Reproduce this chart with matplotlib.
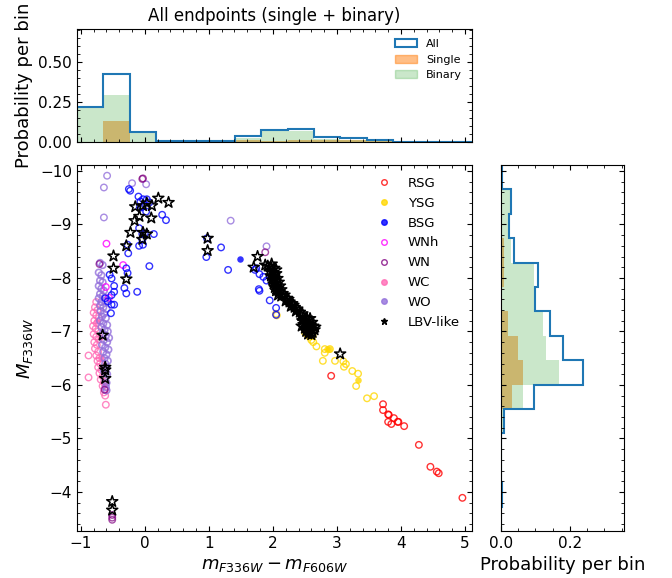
import numpy as np
import matplotlib
matplotlib.use("Agg")
import matplotlib.pyplot as plt
from matplotlib.lines import Line2D
from matplotlib.patches import Patch

# ---- data ----
rsg_x = [2.91, 3.72, 3.72, 3.80, 3.81, 3.80, 3.85, 3.89, 3.95, 3.96, 4.05, 4.28, 4.46, 4.56, 4.59, 4.96]
rsg_y = [-6.17, -5.64, -5.53, -5.45, -5.44, -5.31, -5.27, -5.38, -5.31, -5.31, -5.23, -4.88, -4.47, -4.38, -4.35, -3.89]

ysg_x = [2.53, 2.57, 2.60, 2.63, 2.68, 2.81, 2.78, 2.97, 3.10, 3.14, 3.11, 3.24, 3.33, 3.30, 3.47, 3.58,
         2.81, 2.89, 2.05, 2.06, 2.50, 2.56, 2.62]
ysg_y = [-6.95, -6.90, -6.84, -6.80, -6.72, -6.60, -6.45, -6.45, -6.44, -6.39, -6.34, -6.26, -6.21, -5.98, -5.75, -5.79,
         -6.67, -6.67, -7.33, -7.30, -6.98, -6.94, -6.92]
ysg_fill_x = [2.85, 2.87, 3.33, 2.55]
ysg_fill_y = [-6.68, -6.67, -6.09, -6.95]

bsg_x = [-0.25, -0.23, -0.10, -0.07, -0.03, 0.03, 0.07, -0.04, 0.02, -0.08, 0.27, 0.33,
         -0.09, 0.14, -0.04, 0.00, -0.09, -0.03, -0.04, -0.27, -0.26, -0.29, -0.27, -0.32, -0.29,
         -0.12, 0.07, -0.55, -0.52, -0.48, -0.48, -0.52, -0.52, -0.48, -0.53, -0.58, -0.62,
         0.96, 0.97, 1.19, 1.30, 1.72, 1.79, 1.85, 1.90, 1.79, 1.78, 1.95, 2.05, 2.05, 1.74]
bsg_y = [-9.66, -9.63, -9.52, -9.43, -9.47, -9.47, -9.41, -9.33, -9.24, -9.31, -9.18, -9.08,
         -8.93, -8.82, -8.82, -8.83, -8.60, -8.62, -8.71, -8.62, -8.46, -8.18, -8.09, -7.81, -7.71,
         -7.74, -8.22, -8.06, -7.99, -7.85, -7.74, -7.68, -7.50, -7.50, -7.34, -7.56, -7.62,
         -8.39, -8.74, -8.57, -8.15, -8.15, -8.07, -8.02, -7.95, -7.76, -7.79, -7.58, -7.44, -7.31, -8.18]
bsg_fill_x = [1.48]
bsg_fill_y = [-8.35]

wnh_x = [-0.60, -0.34, -0.61, -0.56]
wnh_y = [-8.64, -8.24, -7.83, -7.63]

wn_x = [-0.04, -0.03, 1.88, -0.51, -0.51, -0.51, -0.71, -0.63]
wn_y = [-9.85, -9.86, -8.48, -3.57, -3.48, -3.52, -8.26, -5.91]

wc_x = [-0.76, -0.78, -0.74, -0.80, -0.76, -0.72, -0.79, -0.75, -0.81, -0.77, -0.73, -0.80, -0.76, -0.72,
        -0.79, -0.75, -0.78, -0.73, -0.76, -0.71, -0.74, -0.70, -0.73, -0.68, -0.71, -0.66, -0.69, -0.64,
        -0.66, -0.62, -0.64, -0.62, -0.88, -0.88, -0.61]
wc_y = [-7.55, -7.45, -7.40, -7.35, -7.30, -7.25, -7.20, -7.15, -7.10, -7.05, -7.00, -6.95, -6.90, -6.85,
        -6.80, -6.75, -6.68, -6.62, -6.55, -6.50, -6.45, -6.40, -6.33, -6.28, -6.22, -6.16, -6.10, -6.05,
        -5.98, -5.92, -5.86, -5.80, -6.55, -6.14, -5.63]
wc_fill_x = [-0.74, -0.70, -0.68, -0.64]
wc_fill_y = [-7.20, -6.90, -6.50, -6.00]

wo_x = [-0.59, -0.64, -0.64, -0.20, 0.02, 1.34, 1.90]
wo_y = [-9.91, -9.69, -9.13, -9.77, -9.75, -9.07, -8.59]
wo_fill_x = [-0.70, -0.66, -0.72, -0.68, -0.70, -0.66, -0.72, -0.68, -0.64, -0.70, -0.66, -0.72, -0.62, -0.68,
             -0.70, -0.65, -0.60, -0.69, -0.64, -0.67, -0.61, -0.70, -0.65, -0.59, -0.68, -0.63, -0.58, -0.66,
             -0.61, -0.56, -0.64, -0.59, -0.67, -0.62, -0.57, -0.65, -0.60, -0.63, -0.58, -0.62, -0.60, -0.64,
             -0.59, -0.62, -0.60, -0.61, -0.60]
wo_fill_y = [-8.28, -8.24, -8.10, -8.05, -7.95, -7.92, -7.85, -7.80, -7.76, -7.70, -7.66, -7.62, -7.58, -7.55,
             -7.48, -7.45, -7.42, -7.38, -7.33, -7.28, -7.25, -7.20, -7.15, -7.12, -7.08, -7.03, -7.00, -6.96,
             -6.92, -6.88, -6.84, -6.80, -6.75, -6.70, -6.66, -6.62, -6.57, -6.50, -6.45, -6.40, -6.32, -6.26,
             -6.20, -6.12, -6.04, -5.96, -5.90]

lbv_x = [0.21, 0.37, -0.15, 0.03, -0.03, 0.11, -0.085, 0.10, -0.16, -0.225, -0.03, 0.03, -0.04,
         -0.29, -0.49, -0.49, -0.29, 0.98, 0.98, 1.76, 1.70, 1.88, 3.05, -0.66, -0.62, -0.62, -0.62,
         -0.51, -0.51,
         1.92, 1.97, 2.02, 1.95, 2.00, 2.05, 1.97, 2.02, 2.07, 1.99, 2.04, 2.09, 2.01, 2.06, 2.11,
         2.03, 2.08, 2.13, 2.05, 2.10, 2.15, 2.08, 2.13, 1.98, 2.05, 2.00,
         2.18, 2.22, 2.20, 2.26, 2.30, 2.28, 2.34, 2.38, 2.36, 2.42, 2.46, 2.44, 2.24, 2.32,
         2.48, 2.53, 2.58, 2.46, 2.51, 2.56, 2.61, 2.48, 2.53, 2.58, 2.63, 2.50, 2.55, 2.60, 2.65,
         2.52, 2.57, 2.62, 2.55, 2.60, 2.45, 2.66]
lbv_y = [-9.49, -9.41, -9.33, -9.40, -9.35, -9.35, -9.15, -9.12, -9.07, -8.85, -8.85, -8.82, -8.72,
         -8.60, -8.41, -8.18, -7.98, -8.74, -8.51, -8.40, -8.20, -8.24, -6.58, -6.93, -6.33, -6.28, -6.12,
         -3.82, -3.66,
         -8.22, -8.20, -8.18, -8.12, -8.10, -8.08, -8.04, -8.01, -7.99, -7.96, -7.94, -7.92, -7.89, -7.87, -7.85,
         -7.82, -7.80, -7.78, -7.76, -7.73, -7.71, -7.68, -7.66, -8.26, -8.15, -8.03,
         -7.68, -7.62, -7.57, -7.55, -7.52, -7.47, -7.45, -7.42, -7.38, -7.36, -7.33, -7.30, -7.60, -7.49,
         -7.26, -7.25, -7.24, -7.20, -7.19, -7.18, -7.17, -7.13, -7.12, -7.11, -7.10, -7.06, -7.05, -7.04, -7.03,
         -7.00, -6.99, -6.98, -6.95, -6.94, -7.10, -7.08]

# histograms (probability per bin)
top_all = [0.22, 0.425, 0.065, 0.004, 0.004, 0.004, 0.035, 0.073, 0.080, 0.030, 0.022, 0.010, 0.002, 0.002, 0.002]
top_single = [0, 0.13, 0, 0, 0, 0, 0.012, 0.007, 0.013, 0.012, 0.010, 0.004, 0, 0, 0]
top_binary = [0.22, 0.295, 0.065, 0.004, 0.004, 0.004, 0.023, 0.066, 0.067, 0.018, 0.012, 0.006, 0.002, 0.002, 0.002]

right_all = [0.005, 0.031, 0.023, 0.039, 0.108, 0.099, 0.143, 0.180, 0.237, 0.097, 0.010, 0.001, 0.0, 0.003, 0.001]
right_single = [0, 0, 0, 0.010, 0.010, 0, 0.021, 0.050, 0.064, 0.033, 0, 0, 0, 0, 0]
right_binary = [0.005, 0.028, 0.020, 0.030, 0.097, 0.095, 0.122, 0.131, 0.169, 0.064, 0.008, 0.001, 0, 0.002, 0.001]

xlo, xhi = -1.06, 5.11
ylo, yhi = -10.11, -3.27

plt.rcParams['xtick.direction'] = 'in'
plt.rcParams['ytick.direction'] = 'in'
plt.rcParams['xtick.top'] = True
plt.rcParams['ytick.right'] = True
plt.rcParams['xtick.minor.visible'] = True
plt.rcParams['ytick.minor.visible'] = True
plt.rcParams['xtick.labelsize'] = 11
plt.rcParams['ytick.labelsize'] = 11

fig = plt.figure(figsize=(6.72, 5.78), dpi=100)
ax = fig.add_axes([0.1146, 0.0813, 0.5878, 0.6332])
axt = fig.add_axes([0.1146, 0.7543, 0.5878, 0.1955])
axr = fig.add_axes([0.7451, 0.0813, 0.1835, 0.6332])

ms = 22
a = 0.8
ax.scatter(rsg_x, rsg_y, s=ms, facecolors='none', edgecolors='red', alpha=a, lw=1)
ax.scatter(ysg_x, ysg_y, s=ms, facecolors='none', edgecolors='gold', alpha=a, lw=1)
ax.scatter(ysg_fill_x, ysg_fill_y, s=ms, color='gold', alpha=a, lw=0)
ax.scatter(wc_x, wc_y, s=ms, facecolors='none', edgecolors='hotpink', alpha=a, lw=1)
ax.scatter(wc_fill_x, wc_fill_y, s=ms, color='hotpink', alpha=a, lw=0)
ax.scatter(wo_fill_x, wo_fill_y, s=ms, facecolors='none', edgecolors='mediumpurple', alpha=a, lw=1.2)
ax.scatter(wo_x, wo_y, s=ms, facecolors='none', edgecolors='mediumpurple', alpha=a, lw=1)
ax.scatter(wn_x, wn_y, s=ms, facecolors='none', edgecolors='purple', alpha=0.7, lw=1)
ax.scatter(wnh_x, wnh_y, s=ms, facecolors='none', edgecolors='magenta', alpha=a, lw=1)
ax.scatter(bsg_x, bsg_y, s=ms, facecolors='none', edgecolors='blue', alpha=a, lw=1)
ax.scatter(bsg_fill_x, bsg_fill_y, s=ms, color='blue', alpha=a, lw=0)
ax.scatter(lbv_x, lbv_y, s=70, marker='*', facecolors='none', edgecolors='black', lw=1.1, zorder=5)

ax.set_xlim(xlo, xhi)
ax.set_ylim(yhi, ylo)
ax.set_xlabel(r'$m_{F336W} - m_{F606W}$', fontsize=13)
ax.set_ylabel(r'$M_{F336W}$', fontsize=13)

handles = [
    Line2D([], [], ls='', marker='o', ms=4, mfc='none', mec='red', alpha=a),
    Line2D([], [], ls='', marker='o', ms=4, mfc='gold', mec='gold', alpha=a),
    Line2D([], [], ls='', marker='o', ms=4, mfc='blue', mec='blue', alpha=a),
    Line2D([], [], ls='', marker='o', ms=4, mfc='none', mec='magenta', alpha=a),
    Line2D([], [], ls='', marker='o', ms=4, mfc='none', mec='purple', alpha=a),
    Line2D([], [], ls='', marker='o', ms=4, mfc='hotpink', mec='hotpink', alpha=a),
    Line2D([], [], ls='', marker='o', ms=4, mfc='mediumpurple', mec='mediumpurple', alpha=a),
    Line2D([], [], ls='', marker='*', ms=5, color='black'),
]
labels = ['RSG', 'YSG', 'BSG', 'WNh', 'WN', 'WC', 'WO', 'LBV-like']
ax.legend(handles, labels, loc='upper right', frameon=False, fontsize=9.5, labelspacing=0.52)

# top histogram
edges_x = np.linspace(xlo, xhi, len(top_all) + 1)
axt.stairs(top_single, edges_x, fill=True, color='C1', alpha=0.5, label='Single')
axt.stairs(top_binary, edges_x, fill=True, color='C2', alpha=0.25, label='Binary')
axt.stairs(top_all, edges_x, color='C0', lw=1.5, label='All')
axt.set_xlim(xlo, xhi)
axt.set_ylim(0, 0.706)
axt.set_yticks([0, 0.25, 0.5])
axt.tick_params(labelbottom=False)
axt.set_ylabel('Probability per bin', fontsize=13)
axt.set_title('All endpoints (single + binary)', fontsize=12)
th = [Patch(facecolor='none', edgecolor='C0', lw=1.5), Patch(color='C1', alpha=0.5), Patch(color='C2', alpha=0.25)]
axt.legend(th, ['All', 'Single', 'Binary'], loc='upper right', frameon=False, fontsize=8)

# right histogram
edges_y = np.linspace(ylo, yhi, len(right_all) + 1)
axr.stairs(right_single, edges_y, fill=True, color='C1', alpha=0.5, orientation='horizontal')
axr.stairs(right_binary, edges_y, fill=True, color='C2', alpha=0.25, orientation='horizontal')
axr.stairs(right_all, edges_y, color='C0', lw=1.5, orientation='horizontal')
axr.set_ylim(yhi, ylo)
axr.set_xlim(0, 0.357)
axr.set_xticks([0, 0.2])
axr.tick_params(labelleft=False)
axr.set_xlabel('Probability per bin', fontsize=13)

fig.savefig('out.png', dpi=100)
